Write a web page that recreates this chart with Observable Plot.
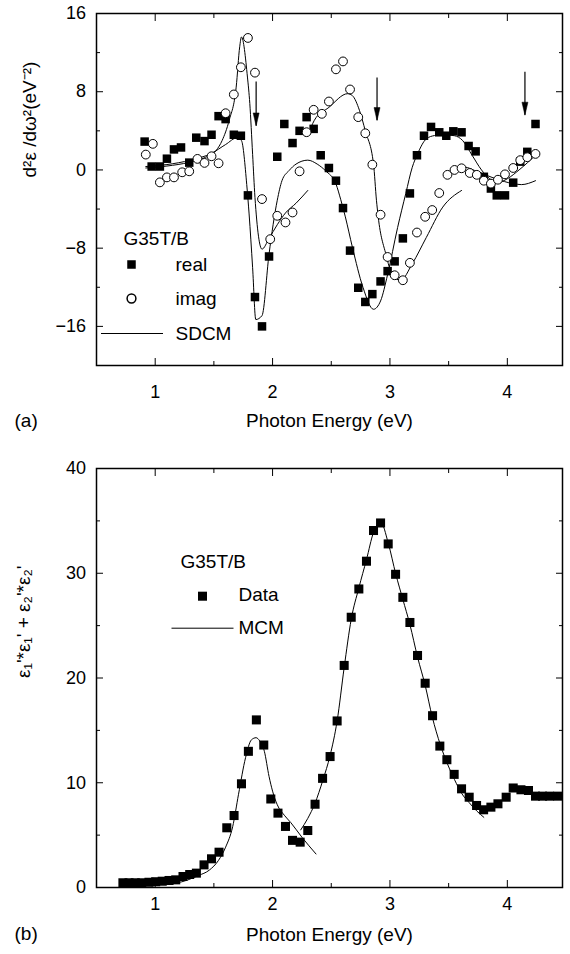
<!DOCTYPE html>
<html><head><meta charset="utf-8">
<script src="https://cdn.jsdelivr.net/npm/d3@7"></script>
<script src="https://cdn.jsdelivr.net/npm/@observablehq/plot@0.6"></script>
<style>
html,body{margin:0;padding:0;background:#fff;}
#chart{width:570px;height:954px;}
#chart svg{display:block;}
</style></head><body><div id="chart"></div>
<script>
// ---------- Panel (a): second derivative spectra ----------
const realE = [0.91,0.97,1.04,1.10,1.16,1.22,1.29,1.35,1.42,1.48,1.54,1.60,1.67,1.73,1.79,1.85,1.91,1.97,2.04,2.10,2.17,2.23,2.29,2.35,2.41,2.48,2.54,2.60,2.66,2.73,2.79,2.85,2.92,2.98,3.04,3.11,3.17,3.23,3.29,3.35,3.42,3.48,3.54,3.61,3.67,3.73,3.80,3.86,3.91,3.98,4.05,4.11,4.17,4.24];
const realV = [2.9,0.35,0.35,1.15,2.1,2.3,0.75,3.3,2.95,3.6,5.5,5.2,3.6,3.5,-2.6,-13.0,-16.0,-8.85,1.35,4.7,2.75,4.0,5.4,4.2,1.5,0.2,-1.1,-3.9,-8.25,-12.05,-13.5,-12.7,-11.4,-10.35,-9.35,-7.0,-2.4,1.5,3.5,4.4,3.85,3.5,3.95,3.85,2.45,1.9,-0.7,-1.9,-2.6,-2.6,-1.3,0.85,1.85,4.7];
const imagE = [0.92,0.98,1.04,1.10,1.16,1.23,1.29,1.36,1.42,1.48,1.54,1.60,1.67,1.73,1.79,1.85,1.91,1.98,2.04,2.11,2.17,2.23,2.29,2.35,2.42,2.48,2.54,2.60,2.66,2.73,2.79,2.85,2.92,2.98,3.04,3.11,3.17,3.23,3.30,3.36,3.42,3.49,3.55,3.61,3.68,3.74,3.80,3.86,3.92,3.98,4.05,4.11,4.17,4.24];
const imagV = [1.57,2.67,-1.27,-0.76,-0.76,-0.24,-0.14,1.13,0.72,1.4,0.68,5.8,7.72,10.5,13.5,9.95,-2.98,-7.08,-4.69,-5.37,-4.35,-0.14,3.86,6.15,5.74,7.0,10.29,11.1,8.23,5.4,3.75,0.54,-4.58,-8.9,-10.77,-11.28,-9.5,-6.4,-4.79,-4.1,-2.36,-0.5,0.0,0.17,-0.31,-0.5,-1.1,-1.4,-1.0,-0.45,0.2,1.0,1.3,1.64];
const sdcmReal = [[0.92,0.35],[1.10,0.55],[1.30,1.0],[1.48,1.7],[1.60,2.6],[1.70,3.3],[1.735,3.0],[1.78,-1.5],[1.80,-4.5],[1.83,-10],[1.857,-15.3],[1.91,-14.9],[1.97,-8.6],[2.04,-3.1],[2.08,-1.1],[2.14,-0.07],[2.20,0.6],[2.30,1.0],[2.38,0.6],[2.45,-0.07],[2.54,-1.44],[2.58,-3.0],[2.62,-4.8],[2.68,-7.9],[2.77,-12.0],[2.86,-14.25],[2.92,-13.4],[2.98,-10.7],[3.065,-5.9],[3.135,-2.4],[3.19,0.27],[3.235,1.64],[3.31,3.18],[3.38,3.52],[3.45,3.6],[3.55,3.5],[3.62,3.0],[3.70,1.5],[3.78,0.0],[3.85,-0.9],[3.92,-1.3],[4.0,-0.9],[4.1,0.0],[4.24,1.5]];
const sdcmImag1 = [[0.92,0.2],[1.10,0.4],[1.29,0.78],[1.43,1.3],[1.52,2.0],[1.57,3.0],[1.63,5.06],[1.69,8.47],[1.72,12.6],[1.735,13.6],[1.786,9.5],[1.806,6.8],[1.83,1.6],[1.85,-2.8],[1.91,-8.1],[1.97,-7.0],[2.04,-5.6],[2.11,-4.4],[2.20,-3.4],[2.30,-2.1]];
const sdcmImag2 = [[2.30,3.5],[2.355,5.06],[2.48,6.4],[2.64,7.8],[2.68,7.6],[2.74,6.1],[2.79,4.0],[2.86,0.6],[2.885,-3.1],[2.90,-4.8],[2.965,-8.6],[3.02,-10.7],[3.09,-11.3],[3.19,-9.6],[3.31,-6.9],[3.45,-3.8],[3.61,-2.1]];
const sdcmImag3 = [[3.50,-0.48],[3.56,0.1],[3.63,0.3],[3.75,-0.2],[3.90,-0.9],[4.05,-1.4],[4.12,-1.5],[4.24,-1.1]];
const arrowE = [1.86, 2.89, 4.15];
const arrowTop = [9.0, 9.4, 10.0];
const arrowTip = [4.5, 5.05, 5.6];

// ---------- Panel (b): eps1'^2 + eps2'^2 ----------
const dataE = [0.725,0.777,0.83,0.885,0.947,1.004,1.06,1.118,1.175,1.237,1.294,1.351,1.416,1.48,1.544,1.61,1.672,1.735,1.794,1.862,1.925,1.985,2.046,2.11,2.17,2.235,2.30,2.362,2.426,2.49,2.55,2.61,2.67,2.735,2.80,2.86,2.92,2.985,3.048,3.11,3.17,3.235,3.30,3.363,3.425,3.485,3.547,3.61,3.675,3.738,3.798,3.86,3.92,3.99,4.05,4.116,4.18,4.24,4.30,4.36,4.43];
const dataV = [0.45,0.45,0.45,0.45,0.5,0.55,0.6,0.67,0.73,1.05,1.24,1.37,2.16,2.74,3.37,5.7,6.87,9.9,13.0,16.0,13.6,8.45,7.1,5.83,4.5,4.33,5.44,7.95,10.42,12.5,15.9,21.2,25.8,28.5,31.15,34.08,34.8,32.8,29.9,27.7,25.3,22.15,19.5,16.4,13.5,12.2,10.8,9.42,8.62,7.83,7.42,7.67,7.99,8.62,9.5,9.33,9.26,8.72,8.72,8.72,8.72];
const mcm1 = [[0.95,0.3],[1.0,0.35],[1.18,0.45],[1.37,1.15],[1.46,1.65],[1.54,2.6],[1.60,3.85],[1.66,5.8],[1.71,8.9],[1.77,12.4],[1.82,14.1],[1.86,14.3],[1.89,14.0],[1.93,13.0],[1.97,10.6],[2.0,9.2],[2.04,7.9],[2.1,6.9],[2.155,6.2],[2.25,4.8],[2.37,3.2]];
const mcm2 = [[2.24,5.5],[2.30,6.6],[2.36,8.0],[2.43,10.3],[2.49,12.6],[2.55,15.9],[2.61,21.0],[2.67,25.6],[2.735,28.6],[2.80,31.3],[2.86,33.9],[2.92,34.9],[2.985,32.9],[3.05,29.9],[3.11,27.5],[3.17,25.1],[3.235,22.0],[3.30,19.3],[3.36,16.3],[3.43,13.6],[3.49,11.8],[3.55,10.3],[3.61,9.0],[3.675,8.1],[3.74,7.3],[3.80,6.7]];

// ---------- axes / ticks ----------
const xDomain = [0.5, 4.47];
const xMajor = [1, 2, 3, 4];
const xMinor = [1.5, 2.5, 3.5];
const yDomainA = [-20, 16], yMajorA = [-16, -8, 0, 8, 16], yMinorA = [-12, -4, 4, 12];
const yDomainB = [0, 40], yMajorB = [0, 10, 20, 30, 40], yMinorB = [5, 15, 25, 35];

const FONT = '"Liberation Sans", Arial, Helvetica, sans-serif';
const TICK_FS = 18, TEXT_FS = 19;
const empty = () => "";
const minus = d => (d < 0 ? "\u2212" + Math.abs(d) : String(d));

function frameAxes(yMajor, yMinor, xPad) {
  return [
    Plot.axisX({anchor: "bottom", ticks: xMajor, tickSize: -7, tickPadding: 7 + xPad, fontSize: TICK_FS, label: null, tickFormat: d => String(d), stroke: "black"}),
    Plot.axisX({anchor: "bottom", ticks: xMinor, tickSize: -4, tickFormat: empty, label: null, stroke: "black"}),
    Plot.axisX({anchor: "top", ticks: xMajor, tickSize: -7, tickFormat: empty, label: null, stroke: "black"}),
    Plot.axisX({anchor: "top", ticks: xMinor, tickSize: -4, tickFormat: empty, label: null, stroke: "black"}),
    Plot.axisY({anchor: "left", ticks: yMajor, tickSize: -7, tickPadding: 17.5, fontSize: TICK_FS, label: null, tickFormat: minus, stroke: "black"}),
    Plot.axisY({anchor: "left", ticks: yMinor, tickSize: -4, tickFormat: empty, label: null, stroke: "black"}),
    Plot.axisY({anchor: "right", ticks: yMajor, tickSize: -7, tickFormat: empty, label: null, stroke: "black"}),
    Plot.axisY({anchor: "right", ticks: yMinor, tickSize: -4, tickFormat: empty, label: null, stroke: "black"}),
    Plot.frame({stroke: "black", strokeWidth: 1.5})
  ];
}
const legendLine = {draw(ctx) { ctx.moveTo(-31, 0); ctx.lineTo(31, 0); }};
const arrowHead = {draw(ctx) { ctx.moveTo(0, 0); ctx.lineTo(-3, -13); ctx.lineTo(3, -13); ctx.closePath(); }};
const one = [0];

// ---------- Panel (a) ----------
const realPts = realE.map((e, i) => ({e, v: realV[i]}));
const imagPts = imagE.map((e, i) => ({e, v: imagV[i]}));
const imagFit = [sdcmImag1, sdcmImag2, sdcmImag3].flatMap((s, k) => s.map(([e, v]) => ({e, v, k})));
const realFit = sdcmReal.map(([e, v]) => ({e, v}));
const arrows = arrowE.map((e, i) => ({e, y1: arrowTop[i], y2: arrowTip[i]}));

const plotA = Plot.plot({
  width: 570, height: 440,
  marginLeft: 96, marginRight: 8, marginTop: 13, marginBottom: 75,
  style: {fontFamily: FONT, fontSize: "16px", color: "black", background: "white"},
  x: {domain: xDomain},
  y: {domain: yDomainA},
  marks: [
    ...frameAxes(yMajorA, yMinorA, 20),
    Plot.line(realFit, {x: "e", y: "v", stroke: "black", strokeWidth: 1, curve: "monotone-x"}),
    Plot.line(imagFit, {x: "e", y: "v", z: "k", stroke: "black", strokeWidth: 1, curve: "monotone-x"}),
    Plot.ruleX(arrows, {x: "e", y1: "y1", y2: "y2", stroke: "black", strokeWidth: 1.2}),
    Plot.dot(arrows, {x: "e", y: "y2", symbol: arrowHead, fill: "black", stroke: "black", strokeWidth: 0.5}),
    Plot.dot(realPts, {x: "e", y: "v", symbol: "square", r: 4.8, fill: "black", stroke: "none"}),
    Plot.dot(imagPts, {x: "e", y: "v", symbol: "circle", r: 4.4, fill: "white", stroke: "black", strokeWidth: 1}),
    // legend
    Plot.text(["G35T/B"], {frameAnchor: "top-left", dx: 27, dy: 225, text: d => d, textAnchor: "start", lineAnchor: "middle", fontSize: TEXT_FS}),
    Plot.dot(one, {frameAnchor: "top-left", dx: 35, dy: 251, symbol: "square", r: 4.8, fill: "black", stroke: "none"}),
    Plot.text(["real"], {frameAnchor: "top-left", dx: 79, dy: 251, text: d => d, textAnchor: "start", lineAnchor: "middle", fontSize: TEXT_FS}),
    Plot.dot(one, {frameAnchor: "top-left", dx: 35, dy: 285, symbol: "circle", r: 4.4, fill: "white", stroke: "black"}),
    Plot.text(["imag"], {frameAnchor: "top-left", dx: 79, dy: 285, text: d => d, textAnchor: "start", lineAnchor: "middle", fontSize: TEXT_FS}),
    Plot.dot(one, {frameAnchor: "top-left", dx: 35.5, dy: 320, symbol: legendLine, fill: "none", stroke: "black", strokeWidth: 1}),
    Plot.text(["SDCM"], {frameAnchor: "top-left", dx: 79, dy: 320, text: d => d, textAnchor: "start", lineAnchor: "middle", fontSize: TEXT_FS}),
    // titles
    Plot.text(["d\u00B2\u03B5 /d\u03C9\u00B2(eV\u207B\u00B2)"], {frameAnchor: "left", dx: -67, dy: -12, rotate: -90, text: d => d, fontSize: TEXT_FS}),
    Plot.text(["Photon Energy (eV)"], {frameAnchor: "bottom", dy: 61, text: d => d, fontSize: TEXT_FS}),
    Plot.text(["(a)"], {frameAnchor: "bottom-left", dx: -82, dy: 61, text: d => d, textAnchor: "start", fontSize: TEXT_FS})
  ]
});

// ---------- Panel (b) ----------
const dataPts = dataE.map((e, i) => ({e, v: dataV[i]}));
const mcmFit = [mcm1, mcm2].flatMap((s, k) => s.map(([e, v]) => ({e, v, k})));

const plotB = Plot.plot({
  width: 570, height: 514,
  marginLeft: 96, marginRight: 8, marginTop: 28, marginBottom: 67,
  style: {fontFamily: FONT, fontSize: "16px", color: "black", background: "white"},
  x: {domain: xDomain},
  y: {domain: yDomainB},
  marks: [
    ...frameAxes(yMajorB, yMinorB, 10),
    Plot.line(mcmFit, {x: "e", y: "v", z: "k", stroke: "black", strokeWidth: 1, curve: "monotone-x"}),
    Plot.dot(dataPts, {x: "e", y: "v", symbol: "square", r: 5.1, fill: "black", stroke: "none"}),
    // legend
    Plot.text(["G35T/B"], {frameAnchor: "top-left", dx: 84, dy: 93.5, text: d => d, textAnchor: "start", lineAnchor: "middle", fontSize: TEXT_FS}),
    Plot.dot(one, {frameAnchor: "top-left", dx: 106, dy: 127.7, symbol: "square", r: 5.1, fill: "black", stroke: "none"}),
    Plot.text(["Data"], {frameAnchor: "top-left", dx: 142, dy: 126, text: d => d, textAnchor: "start", lineAnchor: "middle", fontSize: TEXT_FS}),
    Plot.dot(one, {frameAnchor: "top-left", dx: 106, dy: 159.7, symbol: legendLine, fill: "none", stroke: "black", strokeWidth: 1}),
    Plot.text(["MCM"], {frameAnchor: "top-left", dx: 142, dy: 159, text: d => d, textAnchor: "start", lineAnchor: "middle", fontSize: TEXT_FS}),
    // titles
    Plot.text(["\u03B5\u2081'*\u03B5\u2081' + \u03B5\u2082'*\u03B5\u2082'"], {frameAnchor: "left", dx: -73, rotate: -90, text: d => d, fontSize: TEXT_FS}),
    Plot.text(["Photon Energy (eV)"], {frameAnchor: "bottom", dy: 53, text: d => d, fontSize: TEXT_FS}),
    Plot.text(["(b)"], {frameAnchor: "bottom-left", dx: -82, dy: 52, text: d => d, textAnchor: "start", fontSize: TEXT_FS})
  ]
});

const chart = document.getElementById("chart");
chart.appendChild(plotA);
chart.appendChild(plotB);
</script></body></html>
